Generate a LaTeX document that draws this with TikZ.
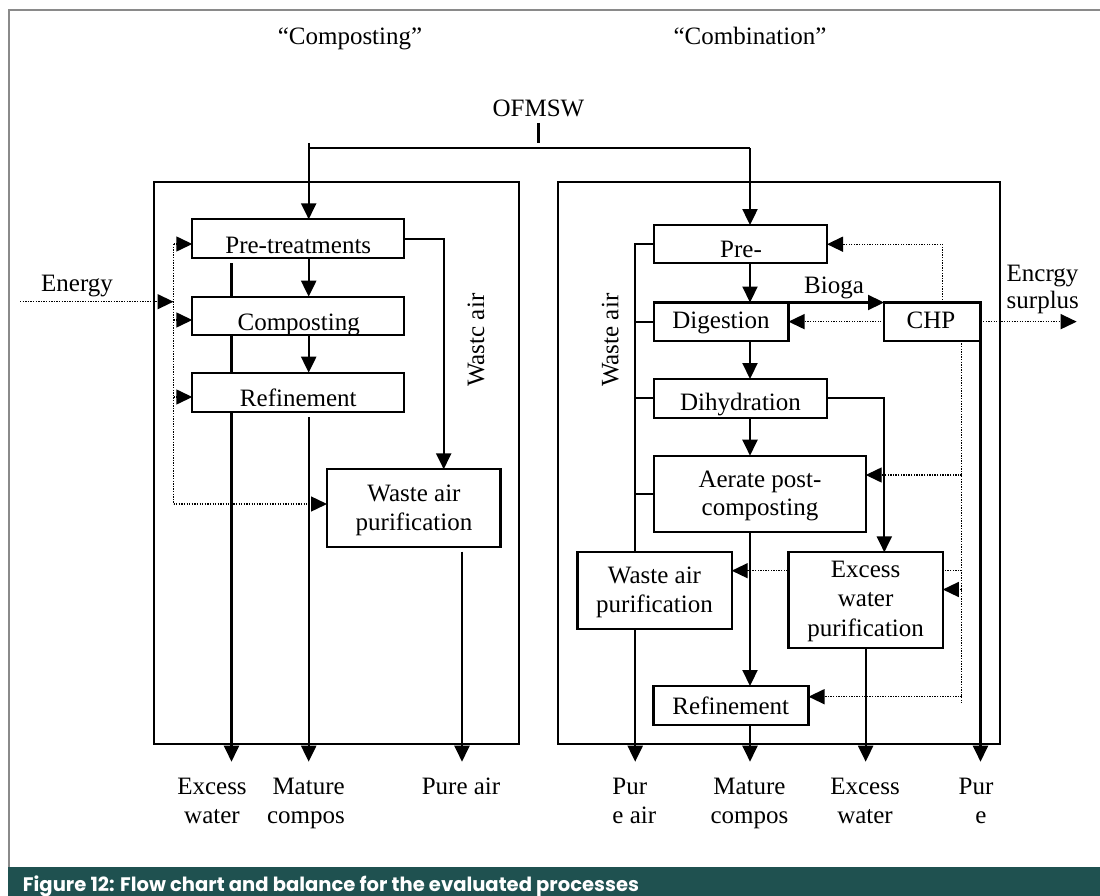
\documentclass[tikz,border=0pt]{standalone}
\usepackage{fontspec}
\usepackage{graphicx}
\setmainfont{Liberation Serif}
\newfontfamily\capfont{Poppins}
\usetikzlibrary{arrows.meta}
\definecolor{capteal}{HTML}{1F5150}
\definecolor{framegray}{HTML}{8A8A8A}
\pgfdeclarelayer{back}
\pgfsetlayers{back,main}

\begin{document}
\begin{tikzpicture}[x=1pt,y=-1pt,
  font=\fontsize{25}{29}\selectfont,
  box/.style={draw, line width=2.2pt, fill=white, inner sep=0pt, outer sep=0pt},
  panel/.style={draw, line width=2.2pt, inner sep=0pt, outer sep=0pt},
  lbl/.style={anchor=base, inner sep=0pt, outer sep=0pt},
  line/.style={line width=2.2pt},
  flow/.style={line width=2.2pt, -{Triangle[length=16pt,width=15pt]}},
  eline/.style={line width=1.4pt, dash pattern=on 1.3pt off 1.3pt},
  energy/.style={eline, -{Triangle[length=16pt,width=15pt]}},
]
\useasboundingbox (0,0) rectangle (1100,896);

% outer frame and caption band
\draw[framegray, line width=1.6pt] (8.8,866.7) -- (8.8,10) -- (1100,10);
\node[fill=capteal, inner sep=0pt, outer sep=0pt, minimum width=1092pt, minimum height=29.3pt, anchor=north west] (band) at (8,866.7) {};
\node[anchor=base west, inner sep=0pt, text=white] (caption) at (22.8,891)
  {\resizebox{616pt}{!}{\capfont\bfseries Figure 12: Flow chart and balance for the evaluated processes}};

% titles and input
\node[lbl] (tComp) at (350,45) {“Composting”};
\node[lbl] (tComb) at (750,45) {“Combination”};
\node[lbl] (ofmsw) at (538.5,116.7) {OFMSW};

% process frames
\node[panel, minimum width=364.8pt, minimum height=562.3pt] (lp) at (336.7,462.85) {};
\node[panel, minimum width=442pt, minimum height=562.3pt] (rp) at (779,462.85) {};

% composting boxes
\node[box, minimum width=212pt, minimum height=39pt] (preL) at (298.3,238.8) {};
\node[box, minimum width=212pt, minimum height=38.3pt] (compL) at (298.3,315.85) {};
\node[box, minimum width=212pt, minimum height=39.6pt] (refL) at (298.3,392.5) {};
\node[box, minimum width=173.5pt, minimum height=77.4pt] (wapL) at (413.75,508) {};

% combination boxes
\node[box, minimum width=173pt, minimum height=38.3pt] (preR) at (740.5,244.2) {};
\node[box, minimum width=134.5pt, minimum height=38.3pt] (digR) at (721.25,321.65) {};
\node[box, minimum width=96.5pt, minimum height=38.3pt] (chp) at (932.25,321.65) {};
\node[box, minimum width=173pt, minimum height=38.7pt] (dihR) at (740.5,398.35) {};
\node[box, minimum width=211.7pt, minimum height=76.6pt] (aerR) at (759.85,494) {};
\node[box, minimum width=154.3pt, minimum height=76.7pt] (wapR) at (654.55,590.65) {};
\node[box, minimum width=154.3pt, minimum height=96pt] (excR) at (865.65,600.3) {};
\node[box, minimum width=155pt, minimum height=39pt] (refR) at (731,705.5) {};

% box texts
\node[lbl] (preLT) at (298.3,253.3) {Pre-treatments};
\node[lbl] (compLT) at (298.7,330) {Composting};
\node[lbl] (refLT) at (298.3,406.7) {Refinement};
\node[lbl] (wapLT1) at (414,501.7) {Waste air};
\node[lbl] (wapLT2) at (414,530) {purification};
\node[lbl] (preRT) at (741,257.7) {Pre-};
\node[lbl] (digRT) at (721,328.3) {Digestion};
\node[lbl] (chpT) at (931,328.3) {CHP};
\node[lbl] (dihRT) at (740.5,410) {Dihydration};
\node[lbl] (aerRT1) at (760,487.7) {Aerate post-};
\node[lbl] (aerRT2) at (760,515) {composting};
\node[lbl] (wapRT1) at (654.5,583.3) {Waste air};
\node[lbl] (wapRT2) at (654.5,612) {purification};
\node[lbl] (excRT1) at (865.6,577.3) {Excess};
\node[lbl] (excRT2) at (865.6,606) {water};
\node[lbl] (excRT3) at (865.6,636) {purification};
\node[lbl] (refRT) at (730.8,714.3) {Refinement};

% side labels
\node[lbl, anchor=base west, rotate=90] (wasteL) at (484,386.7) {Wastc air};
\node[lbl, anchor=base west, rotate=90] (wasteR) at (618.4,386.7) {Waste air};
\node[lbl] (energyT) at (77,291.7) {Energy};
\node[lbl] (bioga) at (834,293.3) {Bioga};
\node[lbl, anchor=base west] (encrgy) at (1006.7,281.7) {Encrgy};
\node[lbl, anchor=base west] (surplusT) at (1006.7,308.3) {surplus};

% output labels
\node[lbl] (oEW1) at (212,794.3) {Excess};
\node[lbl] (oEW2) at (212,823.3) {water};
\node[lbl] (oMC1) at (308.6,794.3) {Mature};
\node[lbl] (oMC2) at (306,823.3) {compos};
\node[lbl] (oPA) at (461,794.3) {Pure air};
\node[lbl, anchor=base west] (rPA1) at (612.4,794.3) {Pur};
\node[lbl, anchor=base west] (rPA2) at (612.4,823.3) {e air};
\node[lbl] (rMC1) at (749.4,794.3) {Mature};
\node[lbl] (rMC2) at (749.4,823.3) {compos};
\node[lbl] (rEW1) at (865,794.3) {Excess};
\node[lbl] (rEW2) at (865,823.3) {water};
\node[lbl] (rP1) at (976,794.3) {Pur};
\node[lbl] (rP2) at (981,823.3) {e};

% OFMSW distribution
\coordinate (tick1) at (538.4,123);
\coordinate (tick2) at (538.4,143);
\coordinate (splitL) at (308.7,143);
\coordinate (busL) at (308.7,148.3);
\coordinate (busR) at (750,148.3);
\draw[line] (tick1) -- (tick2);
\draw[line] (busL) -- (busR);
\draw[flow] (splitL) -- (splitL |- preL.north);
\draw[flow] (busR) -- (busR |- preR.north);

% composting chain
\draw[flow] (preL.south -| busL) -- (compL.north -| busL);
\draw[flow] (compL.south -| busL) -- (refL.north -| busL);
\coordinate (wxL) at (443.7,238.8);
\draw[flow] (preL.east) -- (wxL) -- (wxL |- wapL.north);

\coordinate (startEWL) at (231.5,263);
\coordinate (outEWL) at (231.5,761.7);
\coordinate (startMCL) at (308.7,417.3);
\coordinate (outMCL) at (308.7,761.7);
\coordinate (startPAL) at (462,551.7);
\coordinate (outPAL) at (462,761.7);
\begin{pgfonlayer}{back}
  \draw[flow] (startEWL) -- (outEWL);
\end{pgfonlayer}
\draw[flow] (startMCL) -- (outMCL);
\draw[flow] (startPAL) -- (outPAL);

% energy supply (composting)
\coordinate (eIn) at (20,301.7);
\coordinate (eBus) at (173.5,301.7);
\coordinate (eTop) at (173.5,244);
\coordinate (eC) at (173.5,320);
\coordinate (eR) at (173.5,397);
\coordinate (eBot) at (173.5,504);
\draw[energy] (eIn) -- (eBus);
\draw[eline] (eTop) -- (eBot);
\draw[energy] (eTop) -- (eTop -| preL.west);
\draw[energy] (eC) -- (eC -| compL.west);
\draw[energy] (eR) -- (eR -| refL.west);
\draw[energy] (eBot) -- (eBot -| wapL.west);

% combination chain
\draw[flow] (preR.south -| busR) -- (digR.north -| busR);
\draw[flow] (digR.south -| busR) -- (dihR.north -| busR);
\draw[flow] (dihR.south -| busR) -- (aerR.north -| busR);
\draw[flow] (aerR.south -| busR) -- (refR.north -| busR);
\coordinate (outMCR) at (750,761.7);
\draw[flow] (refR.south -| busR) -- (outMCR);
\draw[flow] (digR.north east) -- (chp.north west);
\coordinate (wxR) at (884.3,398.35);
\draw[flow] (dihR.east) -- (wxR) -- (wxR |- excR.north);
\coordinate (outEWR) at (865.65,761.7);
\draw[flow] (excR.south) -- (outEWR);

% waste air collector
\coordinate (waTop) at (635.2,244.2);
\draw[line] (preR.west) -- (waTop) -- (waTop |- wapR.north);
\draw[line] (digR.west) -- (digR.west -| waTop);
\draw[line] (dihR.west) -- (dihR.west -| waTop);
\draw[line] (aerR.west) -- (aerR.west -| waTop);
\coordinate (outPAR) at (635.2,761.7);
\draw[flow] (wapR.south -| waTop) -- (outPAR);

% CHP outputs
\coordinate (outPR) at (980.5,761.7);
\draw[flow] (chp.south east) -- (outPR);
\draw[energy] (chp.west) -- (digR.east);
\coordinate (chpUp) at (942.3,244.2);
\draw[energy] (chp.north -| chpUp) -- (chpUp) -- (preR.east);
\coordinate (surplus) at (1076.7,321.65);
\draw[energy] (chp.east) -- (surplus);
\coordinate (cdTop) at (961.7,340.8);
\coordinate (cdBot) at (961.7,702.7);
\coordinate (cdA) at (961.7,475);
\coordinate (cdW) at (961.7,570.7);
\coordinate (cdE) at (961.7,589.5);
\coordinate (cdR) at (961.7,696.7);
\draw[eline] (cdTop) -- (cdBot);
\draw[energy] (cdA) -- (cdA -| aerR.east);
\begin{pgfonlayer}{back}
  \draw[energy] (cdW) -- (cdW -| wapR.east);
\end{pgfonlayer}
\draw[energy] (cdE) -- (cdE -| excR.east);
\draw[energy] (cdR) -- (cdR -| refR.east);
\end{tikzpicture}
\end{document}
